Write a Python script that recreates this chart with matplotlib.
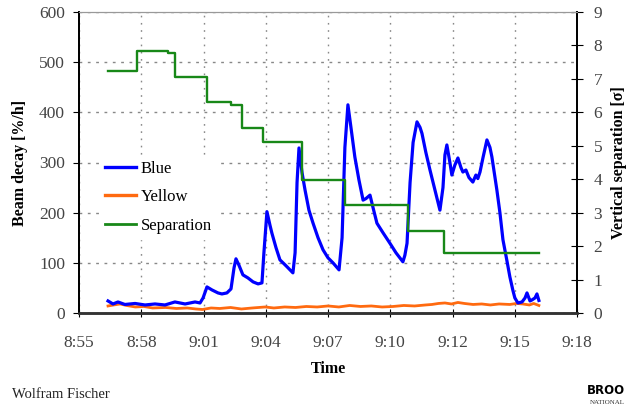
import matplotlib
matplotlib.use("Agg")
import matplotlib.pyplot as plt
from matplotlib.lines import Line2D

plt.rcParams['font.family'] = ['Liberation Serif', 'DejaVu Serif']

# time axis: minutes after 8:55
tick_labels = ["8:55", "8:58", "9:01", "9:04", "9:07", "9:10", "9:12", "9:15", "9:18"]
tick_pos = [0, 2.875, 5.75, 8.625, 11.5, 14.375, 17.25, 20.125, 23]

blue_t = [1.34, 1.57, 1.80, 2.12, 2.59, 3.05, 3.51, 3.97, 4.43, 4.90, 5.36, 5.59, 5.73, 5.91,
          6.14, 6.42, 6.60, 6.83, 7.02, 7.16, 7.25, 7.39, 7.57, 7.80, 8.04, 8.27, 8.45, 8.54,
          8.68, 8.82, 8.91, 9.10, 9.28, 9.47, 9.61, 9.88, 9.98, 10.07, 10.16, 10.30, 10.44,
          10.62, 10.81, 11.04, 11.27, 11.50, 11.73, 12.01, 12.15, 12.28, 12.42, 12.56, 12.74,
          12.93, 13.12, 13.25, 13.44, 13.58, 13.76, 14.04, 14.36, 14.64, 14.96, 15.05, 15.15,
          15.29, 15.43, 15.61, 15.75, 15.84, 16.02, 16.21, 16.44, 16.67, 16.81, 16.90, 16.99,
          17.13, 17.22, 17.36, 17.50, 17.64, 17.73, 17.87, 18.01, 18.19, 18.33, 18.42, 18.52,
          18.66, 18.84, 18.98, 19.07, 19.30, 19.44, 19.58, 19.76, 19.90, 20.04, 20.13, 20.27,
          20.46, 20.60, 20.69, 20.83, 20.92, 21.06, 21.15, 21.24]
blue_v = [24, 18, 22, 17, 19, 16, 18, 16, 22, 18, 22, 20, 30, 52,
          46, 40, 38, 40, 48, 90, 108, 95, 76, 70, 62, 58, 60, 120,
          202, 175, 159, 130, 106, 98, 92, 80, 120, 260, 329, 280, 245,
          205, 179, 150, 126, 110, 100, 86, 150, 330, 415, 370, 311,
          265, 225, 228, 235, 210, 179, 160, 139, 120, 102, 115, 139,
          260, 340, 381, 370, 358, 320, 285, 245, 205, 250, 315, 335,
          300, 275, 295, 309, 290, 281, 285, 270, 261, 275, 268, 281,
          310, 345, 330, 311, 245, 200, 146, 105, 72, 45, 30, 20,
          22, 30, 40, 24, 26, 30, 38, 25]

yellow_t = [1.34, 1.6, 1.9, 2.2, 2.6, 3.0, 3.4, 4.0, 4.5, 5.0, 5.4, 5.7, 6.1, 6.5, 7.0, 7.5,
            8.0, 8.6, 9.0, 9.5, 10.0, 10.5, 11.0, 11.5, 12.0, 12.5, 13.0, 13.5, 14.0, 14.5,
            15.0, 15.5, 16.0, 16.3, 16.6, 16.9, 17.2, 17.5, 17.8, 18.2, 18.6, 19.0, 19.4,
            19.9, 20.2, 20.5, 20.8, 21.0, 21.24]
yellow_v = [14, 16, 18, 15, 12, 13, 10, 11, 9, 10, 8, 7, 10, 9, 11, 8,
            10, 12, 10, 12, 11, 13, 12, 14, 12, 15, 13, 14, 12, 13,
            15, 14, 16, 17, 19, 20, 18, 21, 19, 17, 18, 16, 18,
            17, 19, 18, 16, 19, 15]

sep_t = [1.34, 2.68, 4.11, 4.43, 5.91, 7.02, 7.53, 8.50, 10.30, 12.28, 15.19, 16.86, 21.24]
sep_v = [7.23, 7.82, 7.77, 7.07, 6.30, 6.21, 5.54, 5.12, 3.98, 3.23, 2.45, 1.79, 1.79]

fig = plt.figure(figsize=(6.27, 4.07), dpi=100)
ax = fig.add_axes([79/627, 1 - 313/407, 498/627, 301/407])
ax2 = ax.twinx()

ax.plot(blue_t, blue_v, color='#0000ff', lw=2.3, zorder=3)
ax.plot(yellow_t, yellow_v, color='#ff6a10', lw=2.0, zorder=2)
ax2.step(sep_t, sep_v, where='post', color='#188818', lw=1.7)

ax.set_xlim(0, 23)
ax.set_ylim(0, 600)
ax2.set_ylim(0, 9)
ax.set_xticks(tick_pos)
ax.set_xticklabels(tick_labels)
ax.set_yticks(range(0, 601, 100))
ax2.set_yticks(range(0, 10))

ax.yaxis.grid(True, color='#888888', lw=1.0, linestyle=(0, (2, 4)))
ax.xaxis.grid(True, color='#888888', lw=1.0, linestyle=(0, (1.2, 4)))
ax.set_axisbelow(True)

for a in (ax, ax2):
    a.spines['top'].set_color('#999999')
    a.spines['top'].set_linewidth(0.8)
    a.spines['left'].set_linewidth(1.3)
    a.spines['bottom'].set_linewidth(1.8)
    a.spines['bottom'].set_color('#333333')
    a.spines['right'].set_linewidth(1.3)

ax.tick_params(axis='y', direction='out', length=4, width=0.8, labelsize=12.5, labelcolor='#444444', pad=6)
ax.tick_params(axis='x', direction='inout', length=6, width=0.8, labelsize=12.5, labelcolor='#444444', pad=13)
ax2.tick_params(axis='y', direction='inout', length=8, width=0.8, labelsize=12.5, labelcolor='#444444', pad=8)

ax.set_xlabel("Time", fontsize=11.5, fontweight='bold', labelpad=7)
ax.set_ylabel("Beam decay [%/h]", fontsize=11.5, fontweight='bold', labelpad=8)
ax2.set_ylabel("Vertical separation [σ]", fontsize=11.5, fontweight='bold', labelpad=6)

handles = [Line2D([], [], color='#0000ff', lw=2.4),
           Line2D([], [], color='#ff6a10', lw=2.4),
           Line2D([], [], color='#188818', lw=2.0)]
leg = ax2.legend(handles, ["Blue", "Yellow", "Separation"], loc='upper left',
                 bbox_to_anchor=(0.025, 0.55), fontsize=12, frameon=True,
                 facecolor='white', edgecolor='white', framealpha=1,
                 handlelength=1.9, handletextpad=0.25, labelspacing=0.75,
                 borderpad=0.3, fancybox=False)

fig.text(12/627, 1 - 395/407, "Wolfram Fischer", fontsize=10.5, va='center', color='#222222')
fig.text(625/627, 1 - 391/407, "BROO", fontsize=8.5, fontweight='bold', ha='right', va='center',
         family='DejaVu Sans')
fig.text(625/627, 1 - 402/407, "NATIONAL", fontsize=5, ha='right', va='center', color='#333333')

fig.savefig("out.png", dpi=100)
